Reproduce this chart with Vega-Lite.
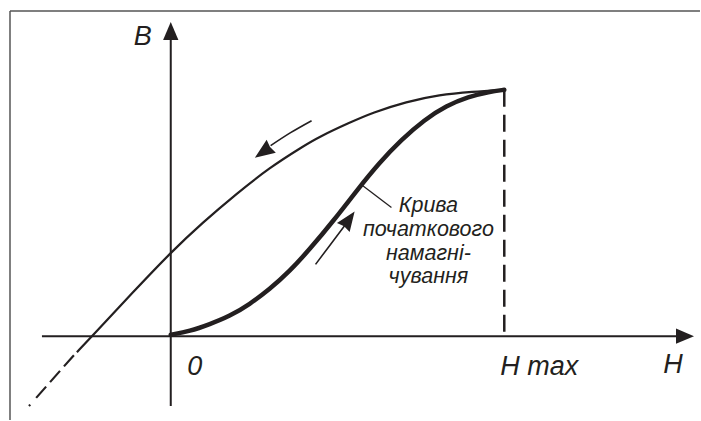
{
  "$schema": "https://vega.github.io/schema/vega-lite/v6.json",
  "width": 701,
  "height": 421,
  "autosize": {"type": "fit", "contains": "padding"},
  "padding": 0,
  "background": "white",
  "config": {"view": {"stroke": null}},
  "datasets": {
    "curves": [
      {"s": "initial", "h": 0, "b": 0.006},
      {"s": "initial", "h": 0.0569, "b": 0.0202},
      {"s": "initial", "h": 0.1168, "b": 0.0486},
      {"s": "initial", "h": 0.1766, "b": 0.081},
      {"s": "initial", "h": 0.2365, "b": 0.1296},
      {"s": "initial", "h": 0.2964, "b": 0.1903},
      {"s": "initial", "h": 0.3563, "b": 0.2632},
      {"s": "initial", "h": 0.4162, "b": 0.3522},
      {"s": "initial", "h": 0.491, "b": 0.4737},
      {"s": "initial", "h": 0.5599, "b": 0.5951},
      {"s": "initial", "h": 0.6257, "b": 0.7045},
      {"s": "initial", "h": 0.6916, "b": 0.7976},
      {"s": "initial", "h": 0.7605, "b": 0.8785},
      {"s": "initial", "h": 0.8263, "b": 0.9352},
      {"s": "initial", "h": 0.8922, "b": 0.9717},
      {"s": "initial", "h": 0.9551, "b": 0.9919},
      {"s": "initial", "h": 1, "b": 1},
      {"s": "return", "h": 1, "b": 1},
      {"s": "return", "h": 0.9042, "b": 0.9919},
      {"s": "return", "h": 0.8054, "b": 0.9798},
      {"s": "return", "h": 0.7066, "b": 0.9514},
      {"s": "return", "h": 0.6048, "b": 0.9069},
      {"s": "return", "h": 0.5359, "b": 0.8664},
      {"s": "return", "h": 0.4461, "b": 0.8097},
      {"s": "return", "h": 0.3952, "b": 0.7692},
      {"s": "return", "h": 0.2964, "b": 0.6842},
      {"s": "return", "h": 0.1976, "b": 0.5789},
      {"s": "return", "h": 0.0958, "b": 0.4615},
      {"s": "return", "h": 0, "b": 0.3401},
      {"s": "return", "h": -0.1108, "b": 0.1822},
      {"s": "return", "h": -0.2365, "b": 0},
      {"s": "return", "h": -0.2814, "b": -0.0648},
      {"s": "return_ext", "h": -0.2904, "b": -0.0769},
      {"s": "return_ext", "h": -0.4251, "b": -0.2834},
      {"s": "arrow_down", "h": 0.4222, "b": 0.8745},
      {"s": "arrow_down", "h": 0.3593, "b": 0.8259},
      {"s": "arrow_down", "h": 0.2994, "b": 0.7733},
      {"s": "arrow_up", "h": 0.4341, "b": 0.2915},
      {"s": "arrow_up", "h": 0.479, "b": 0.3725},
      {"s": "arrow_up", "h": 0.524, "b": 0.4534}
    ],
    "segments": [
      {"s": "frame_top", "h": -0.482, "b": 1.3198, "h2": 1.5868, "b2": 1.3198},
      {"s": "frame_left", "h": -0.482, "b": 1.3198, "h2": -0.482, "b2": -0.3401},
      {"s": "axis", "h": -0.3862, "b": 0, "h2": 1.524, "b2": 0},
      {"s": "axis", "h": 0, "b": -0.2834, "h2": 0, "b2": 1.2024},
      {"s": "hmax", "h": 1, "b": 1, "h2": 1, "b2": 0},
      {"s": "leader", "h": 0.5749, "b": 0.6113, "h2": 0.6617, "b2": 0.5223}
    ],
    "heads": [
      {"s": "axis_h", "h": 1.5419, "b": 0},
      {"s": "axis_v", "h": 0, "b": 1.2389},
      {"s": "arrow_down", "h": 0.2767, "b": 0.7476},
      {"s": "arrow_up", "h": 0.5343, "b": 0.4735}
    ],
    "labels": [
      {"k": "axis", "t": "B", "h": -0.0838, "b": 1.1822},
      {"k": "axis", "t": "0", "h": 0.0719, "b": -0.1579},
      {"k": "axis", "t": "H max", "h": 1.1048, "b": -0.1579},
      {"k": "axis", "t": "H", "h": 1.506, "b": -0.1498},
      {"k": "note", "t": "Крива", "h": 0.7725, "b": 0.502},
      {"k": "note", "t": "початкового", "h": 0.7725, "b": 0.4049},
      {"k": "note", "t": "намагні-", "h": 0.7725, "b": 0.3077},
      {"k": "note", "t": "чування", "h": 0.7725, "b": 0.2146}
    ]
  },
  "encoding": {
    "x": {"field": "h", "type": "quantitative", "scale": {"domain": [-0.51198, 1.58683], "nice": false, "zero": false}, "axis": null},
    "y": {"field": "b", "type": "quantitative", "scale": {"domain": [-0.34008, 1.36437], "nice": false, "zero": false}, "axis": null}
  },
  "layer": [
    {
      "data": {"name": "segments"},
      "transform": [{"filter": "datum.s === 'frame_top' || datum.s === 'frame_left'"}],
      "mark": {"type": "rule", "stroke": "#555555", "strokeWidth": 1.5},
      "encoding": {"x2": {"field": "h2"}, "y2": {"field": "b2"}}
    },
    {
      "data": {"name": "segments"},
      "transform": [{"filter": "datum.s === 'axis'"}],
      "mark": {"type": "rule", "stroke": "#231f20", "strokeWidth": 2},
      "encoding": {"x2": {"field": "h2"}, "y2": {"field": "b2"}}
    },
    {
      "data": {"name": "segments"},
      "transform": [{"filter": "datum.s === 'hmax'"}],
      "mark": {"type": "rule", "stroke": "#231f20", "strokeWidth": 2.5, "strokeDash": [17, 8]},
      "encoding": {"x2": {"field": "h2"}, "y2": {"field": "b2"}}
    },
    {
      "data": {"name": "segments"},
      "transform": [{"filter": "datum.s === 'leader'"}],
      "mark": {"type": "rule", "stroke": "#231f20", "strokeWidth": 1.3},
      "encoding": {"x2": {"field": "h2"}, "y2": {"field": "b2"}}
    },
    {
      "data": {"name": "curves"},
      "transform": [{"filter": "datum.s === 'initial'"}],
      "mark": {"type": "line", "stroke": "#231f20", "strokeWidth": 4.5, "interpolate": "basis", "strokeCap": "round"}
    },
    {
      "data": {"name": "curves"},
      "transform": [{"filter": "datum.s === 'return'"}],
      "mark": {"type": "line", "stroke": "#231f20", "strokeWidth": 2.2, "interpolate": "basis"}
    },
    {
      "data": {"name": "curves"},
      "transform": [{"filter": "datum.s === 'return_ext'"}],
      "mark": {"type": "line", "stroke": "#231f20", "strokeWidth": 2.2, "strokeDash": [15, 6, 15, 6, 15, 9, 2, 60]},
      "encoding": {"order": {"field": "b", "sort": "descending"}}
    },
    {
      "data": {"name": "curves"},
      "transform": [{"filter": "datum.s === 'arrow_down' || datum.s === 'arrow_up'"}],
      "mark": {"type": "line", "stroke": "#231f20", "strokeWidth": 1.6, "interpolate": "monotone"},
      "encoding": {"detail": {"field": "s"}}
    },
    {
      "data": {"name": "heads"},
      "transform": [{"filter": "datum.s === 'axis_h'"}],
      "mark": {"type": "point", "shape": "M0,-1L-0.85,1L0.85,1Z", "size": 324, "filled": true, "fill": "#231f20", "strokeWidth": 0, "opacity": 1, "angle": 90}
    },
    {
      "data": {"name": "heads"},
      "transform": [{"filter": "datum.s === 'axis_v'"}],
      "mark": {"type": "point", "shape": "M0,-1L-0.85,1L0.85,1Z", "size": 324, "filled": true, "fill": "#231f20", "strokeWidth": 0, "opacity": 1, "angle": 0}
    },
    {
      "data": {"name": "heads"},
      "transform": [{"filter": "datum.s === 'arrow_down'"}],
      "mark": {"type": "point", "shape": "M0,-1L-0.8,1L0,0.85L0.8,1Z", "size": 400, "filled": true, "fill": "#231f20", "strokeWidth": 0, "opacity": 1, "angle": 235}
    },
    {
      "data": {"name": "heads"},
      "transform": [{"filter": "datum.s === 'arrow_up'"}],
      "mark": {"type": "point", "shape": "M0,-1L-0.8,1L0,0.85L0.8,1Z", "size": 380, "filled": true, "fill": "#231f20", "strokeWidth": 0, "opacity": 1, "angle": 35.5}
    },
    {
      "data": {"name": "labels"},
      "transform": [{"filter": "datum.k === 'axis'"}],
      "mark": {"type": "text", "font": "Liberation Sans", "fontStyle": "italic", "fontSize": 27, "fill": "#231f20", "align": "center", "baseline": "alphabetic"},
      "encoding": {"text": {"field": "t"}}
    },
    {
      "data": {"name": "labels"},
      "transform": [{"filter": "datum.k === 'note'"}],
      "mark": {"type": "text", "font": "Liberation Sans", "fontStyle": "italic", "fontSize": 21.5, "fill": "#231f20", "align": "center", "baseline": "alphabetic"},
      "encoding": {"text": {"field": "t"}}
    }
  ]
}
